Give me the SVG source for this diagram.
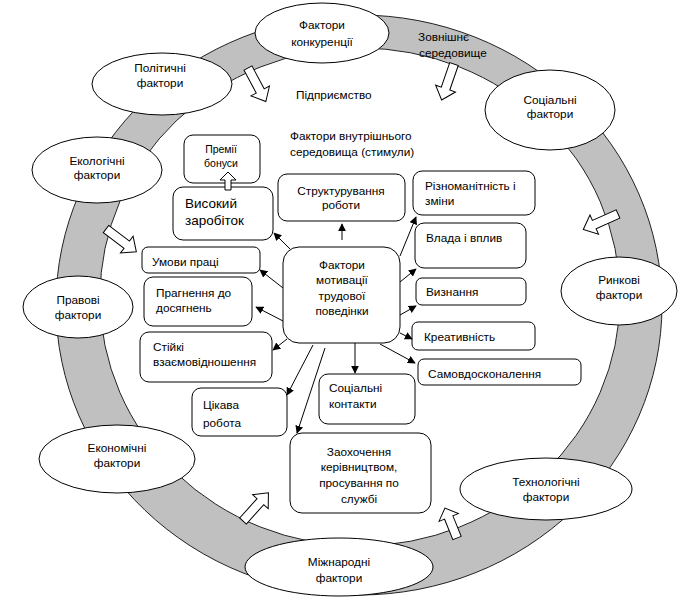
<svg xmlns="http://www.w3.org/2000/svg" width="684" height="606" viewBox="0 0 684 606">
<style>
text{font-family:"Liberation Sans",Arial,sans-serif;font-size:11.8px;fill:#000}
.c{text-anchor:middle}
.ell{fill:#fff;stroke:#000;stroke-width:1}
.box{fill:#fff;stroke:#000;stroke-width:1}
.ba{fill:#fff;stroke:#000;stroke-width:1}
.cn{stroke:#000;stroke-width:1;fill:none;marker-end:url(#ah)}
</style>
<defs>
<marker id="ah" viewBox="0 0 10 10" refX="9" refY="5" markerWidth="8" markerHeight="8" markerUnits="userSpaceOnUse" orient="auto">
<path d="M0,0 L10,5 L0,10 Z" fill="#000"/>
</marker>
<polygon id="blk" points="0,-4.5 26,-4.5 26,-10.5 38,0 26,10.5 26,4.5 0,4.5"/>
</defs>
<g id="ring">
<path d="M56 305 A303 290 0 1 0 662 305 A303 290 0 1 0 56 305 Z M100 297 A260 249 0 1 0 620 297 A260 249 0 1 0 100 297 Z" fill="#c0c0c0" fill-rule="evenodd" stroke="#222" stroke-width="1"/>
</g>
<g id="block-arrows">
<use href="#blk" class="ba" transform="translate(248,68) rotate(62)"/>
<use href="#blk" class="ba" transform="translate(454,64) rotate(109)"/>
<use href="#blk" class="ba" transform="translate(618,214) rotate(156)"/>
<use href="#blk" class="ba" transform="translate(106,229) rotate(37)"/>
<use href="#blk" class="ba" transform="translate(243,521) rotate(-48)"/>
<use href="#blk" class="ba" transform="translate(457,538) rotate(-112) scale(0.85,1)"/>
</g>
<g id="n-konk"><ellipse class="ell" cx="322" cy="33" rx="67" ry="30"/><text class="c" x="322" y="29">Фактори</text><text class="c" x="322" y="46">конкуренції</text></g>
<g id="n-polit"><ellipse class="ell" cx="162" cy="84" rx="70" ry="31"/><text class="c" x="160" y="72">Політичні</text><text class="c" x="160" y="87">фактори</text></g>
<g id="n-soc"><ellipse class="ell" cx="550" cy="110" rx="65" ry="40"/><text class="c" x="550" y="104">Соціальні</text><text class="c" x="550" y="118">фактори</text></g>
<g id="n-eko"><ellipse class="ell" cx="97" cy="170" rx="65" ry="33"/><text class="c" x="97" y="165">Екологічні</text><text class="c" x="97" y="179">фактори</text></g>
<g id="n-prav"><ellipse class="ell" cx="78" cy="307" rx="55" ry="31"/><text class="c" x="78" y="304">Правові</text><text class="c" x="78" y="319">фактори</text></g>
<g id="n-ekon"><ellipse class="ell" cx="117" cy="459" rx="78" ry="34"/><text class="c" x="117" y="452">Економічні</text><text class="c" x="117" y="467">фактори</text></g>
<g id="n-mizh"><ellipse class="ell" cx="339" cy="567" rx="94" ry="29"/><text class="c" x="339" y="566">Міжнародні</text><text class="c" x="339" y="582">фактори</text></g>
<g id="n-tech"><ellipse class="ell" cx="546" cy="489" rx="86" ry="31"/><text class="c" x="546" y="486">Технологічні</text><text class="c" x="546" y="501">фактори</text></g>
<g id="n-rynk"><ellipse class="ell" cx="619" cy="291" rx="58" ry="34"/><text class="c" x="619" y="284">Ринкові</text><text class="c" x="619" y="299">фактори</text></g>
<g id="labels">
<text x="418" y="41">Зовнішнє</text>
<text x="419" y="57">середовище</text>
<text x="296" y="99">Підприємство</text>
<text x="290" y="140">Фактори внутрішнього</text>
<text x="290" y="156">середовища (стимули)</text>
</g>
<g id="n-premii"><rect class="box" x="184" y="135" width="76" height="48" rx="9"/><text class="c" x="221" y="153" style="font-size:10.5px">Премії</text><text class="c" x="221" y="167" style="font-size:10.5px">бонуси</text></g>
<g id="n-vysokyi"><rect class="box" x="173" y="187" width="100" height="53" rx="10"/><text x="185" y="208" style="font-size:13.5px">Високий</text><text x="185" y="225" style="font-size:13.5px">заробіток</text></g>
<g id="up-arrow"><polygon class="ba" points="228,172 236,180 231,180 231,190 225,190 225,180 220,180"/></g>
<g id="n-strukt"><rect class="box" x="278" y="174" width="127" height="47" rx="9"/><text class="c" x="341" y="195">Структурування</text><text class="c" x="341" y="209">роботи</text></g>
<g id="n-rizn"><rect class="box" x="413" y="171" width="122" height="44" rx="9"/><text x="425" y="190">Різноманітність і</text><text x="425" y="205">зміни</text></g>
<g id="n-vlada"><rect class="box" x="415" y="223" width="111" height="45" rx="9"/><text x="426" y="242">Влада і вплив</text></g>
<g id="n-vyzn"><rect class="box" x="416" y="278" width="110" height="27" rx="6"/><text x="426" y="296">Визнання</text></g>
<g id="n-kreat"><rect class="box" x="412" y="322" width="123" height="28" rx="6"/><text x="424" y="341">Креативність</text></g>
<g id="n-samo"><rect class="box" x="418" y="359" width="163" height="26" rx="6"/><text x="428" y="378">Самовдосконалення</text></g>
<g id="n-center"><rect class="box" x="283" y="247" width="117" height="96" rx="16"/><text class="c" x="342" y="269">Фактори</text><text class="c" x="342" y="284">мотивації</text><text class="c" x="342" y="300">трудової</text><text class="c" x="342" y="315">поведінки</text></g>
<g id="n-umovy"><rect class="box" x="142" y="247" width="118" height="26" rx="6"/><text x="152" y="266">Умови праці</text></g>
<g id="n-prahn"><rect class="box" x="144" y="277" width="108" height="49" rx="9"/><text x="156" y="297">Прагнення до</text><text x="156" y="312">досягнень</text></g>
<g id="n-stiiki"><rect class="box" x="140" y="332" width="132" height="50" rx="9"/><text x="153" y="351">Стійкі</text><text x="153" y="366">взаємовідношення</text></g>
<g id="n-tsikava"><rect class="box" x="192" y="388" width="95" height="48" rx="9"/><text x="203" y="409">Цікава</text><text x="203" y="427">робота</text></g>
<g id="n-sotskont"><rect class="box" x="319" y="374" width="96" height="50" rx="9"/><text x="329" y="392">Соціальні</text><text x="329" y="408">контакти</text></g>
<g id="n-zaokh"><rect class="box" x="290" y="433" width="141" height="80" rx="12"/><text class="c" x="359" y="456">Заохочення</text><text class="c" x="359" y="471">керівництвом,</text><text class="c" x="359" y="487">просування по</text><text class="c" x="359" y="503">службі</text></g>
<g id="connectors">
<line class="cn" x1="290" y1="249" x2="274" y2="233"/>
<line class="cn" x1="342" y1="240" x2="342" y2="224"/>
<line class="cn" x1="283" y1="288" x2="260" y2="270"/>
<line class="cn" x1="283" y1="321" x2="256" y2="307"/>
<line class="cn" x1="287" y1="339" x2="273" y2="350"/>
<line class="cn" x1="313" y1="345" x2="287" y2="395"/>
<line class="cn" x1="325" y1="348" x2="297" y2="433"/>
<line class="cn" x1="355" y1="343" x2="355" y2="373"/>
<line class="cn" x1="380" y1="344" x2="415" y2="363"/>
<line class="cn" x1="400" y1="333" x2="412" y2="339"/>
<line class="cn" x1="400" y1="315" x2="416" y2="306"/>
<line class="cn" x1="400" y1="282" x2="416" y2="269"/>
<line class="cn" x1="400" y1="256" x2="416" y2="217"/>
</g>
</svg>
